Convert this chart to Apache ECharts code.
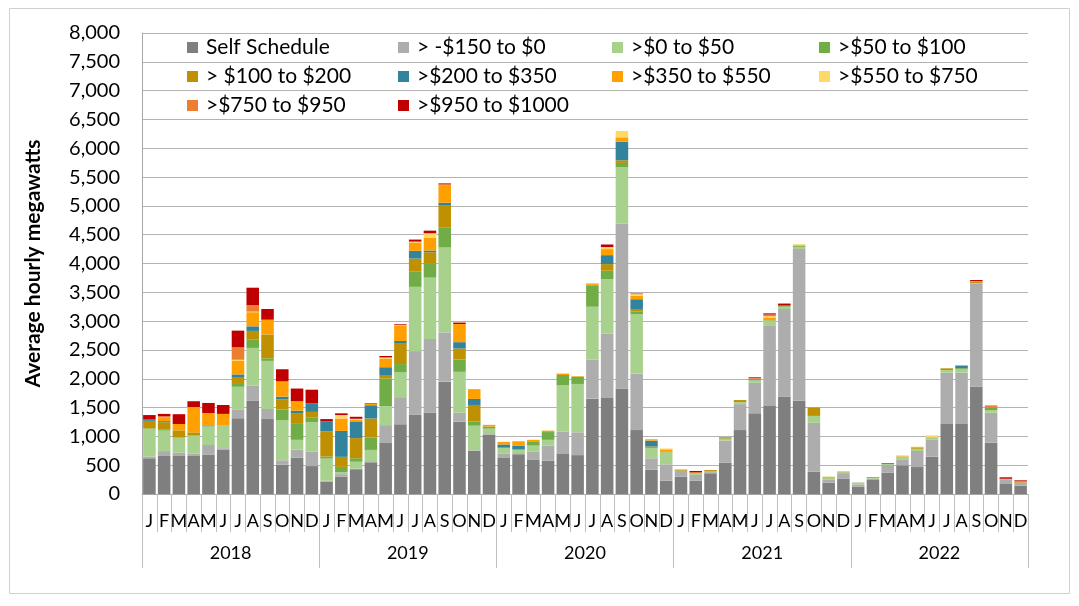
<!DOCTYPE html>
<html>
<head>
<meta charset="utf-8">
<script src="https://cdn.jsdelivr.net/npm/echarts@6/dist/echarts.min.js"></script>
<style>
html,body{margin:0;padding:0;background:#fff;}
#chart{width:1079px;height:606px;}
</style>
</head>
<body>
<div id="chart"></div>
<script>
const monthLetters = ['J','F','M','A','M','J','J','A','S','O','N','D'];
const years = ['2018','2019','2020','2021','2022'];
const yTicks = {min: 0, max: 8000, interval: 500};

const seriesNames = ['Self Schedule', '> -$150 to $0', '>$0 to $50', '>$50 to $100',
  '> $100 to $200', '>$200 to $350', '>$350 to $550', '>$550 to $750',
  '>$750 to $950', '>$950 to $1000'];
const seriesColors = ['#7f7f7f', '#adadad', '#a9d18e', '#70ad47', '#bf9000',
  '#31849b', '#ffa000', '#ffd966', '#ed7d31', '#c00000'];

const selfSchedule = [
  620, 660, 670, 660, 685, 765, 1315, 1615, 1300, 510, 630, 485,
  215, 300, 430, 550, 895, 1210, 1380, 1415, 1950, 1255, 750, 1025,
  635, 690, 600, 580, 705, 675, 1655, 1665, 1830, 1110, 420, 230,
  300, 230, 360, 545, 1110, 1400, 1525, 1690, 1620, 385, 195, 262,
  127, 243, 370, 497, 468, 648, 1215, 1215, 1862, 890, 174, 144];
const neg150to0 = [
  30, 85, 45, 45, 165, 30, 145, 265, 175, 75, 140, 250,
  15, 45, 10, 20, 300, 470, 1100, 1275, 855, 155, 10, 15,
  70, 20, 140, 260, 380, 395, 680, 1120, 2860, 980, 200, 285,
  105, 100, 20, 380, 450, 530, 1405, 1520, 2630, 850, 50, 100,
  40, 23, 133, 105, 278, 300, 890, 890, 1782, 520, 81, 53];
const p0to50 = [
  480, 355, 260, 305, 325, 390, 400, 655, 835, 695, 170, 515,
  385, 35, 120, 195, 330, 430, 1115, 1065, 1475, 710, 425, 95,
  90, 55, 100, 100, 805, 840, 915, 945, 985, 1030, 180, 210,
  0, 15, 10, 30, 35, 45, 75, 40, 40, 120, 35, 17,
  20, 15, 20, 35, 30, 25, 47, 58, 17, 47, 0, 0];
const p50to100 = [
  10, 15, 10, 10, 0, 0, 50, 150, 45, 185, 290, 75,
  35, 90, 60, 215, 480, 145, 270, 250, 340, 215, 70, 35,
  10, 10, 75, 135, 175, 125, 365, 145, 70, 45, 0, 0,
  0, 10, 0, 10, 0, 0, 10, 20, 15, 0, 10, 0,
  10, 14, 0, 0, 10, 10, 0, 20, 0, 46, 0, 0];
const p100to200 = [
  130, 130, 120, 50, 0, 0, 120, 145, 405, 180, 165, 100,
  435, 175, 350, 330, 60, 365, 220, 190, 395, 190, 290, 0,
  0, 0, 0, 0, 0, 0, 15, 115, 45, 45, 25, 15,
  20, 0, 25, 20, 35, 0, 0, 0, 10, 145, 0, 10,
  0, 0, 0, 15, 25, 0, 29, 0, 17, 0, 0, 10];
const p200to350 = [
  30, 20, 0, 0, 15, 0, 45, 80, 5, 45, 50, 150,
  175, 450, 290, 230, 135, 35, 135, 30, 40, 110, 105, 0,
  55, 60, 0, 0, 0, 0, 0, 155, 325, 170, 100, 0,
  0, 0, 0, 0, 0, 15, 0, 0, 0, 0, 0, 0,
  0, 0, 15, 0, 0, 0, 0, 38, 0, 0, 0, 0];
const p350to550 = [
  0, 70, 110, 440, 215, 205, 235, 245, 260, 265, 165, 0,
  0, 215, 30, 25, 150, 260, 145, 225, 305, 315, 170, 30,
  45, 80, 25, 25, 25, 10, 25, 105, 75, 60, 25, 35,
  0, 20, 0, 0, 0, 10, 50, 0, 0, 0, 10, 0,
  0, 0, 0, 0, 0, 0, 0, 10, 0, 0, 0, 13];
const p550to750 = [
  0, 10, 0, 0, 0, 0, 20, 10, 0, 0, 0, 0,
  0, 60, 15, 0, 20, 15, 15, 75, 0, 0, 0, 0,
  0, 0, 0, 0, 5, 0, 0, 35, 110, 25, 0, 15,
  10, 0, 0, 0, 0, 0, 20, 0, 20, 0, 0, 0,
  0, 0, 0, 20, 10, 35, 0, 0, 12, 0, 0, 0];
const p750to950 = [
  0, 0, 0, 0, 0, 0, 215, 115, 0, 0, 0, 0,
  0, 0, 0, 0, 0, 0, 0, 0, 15, 0, 0, 0,
  0, 0, 0, 0, 0, 0, 0, 0, 0, 20, 0, 0,
  0, 0, 0, 0, 0, 10, 30, 0, 0, 0, 0, 0,
  0, 0, 0, 0, 0, 0, 0, 7, 0, 35, 10, 0];
const p950to1000 = [
  70, 45, 170, 100, 175, 155, 290, 300, 185, 210, 220, 235,
  40, 30, 35, 10, 25, 15, 35, 45, 15, 25, 0, 0,
  0, 0, 0, 0, 0, 0, 0, 45, 0, 0, 0, 0,
  0, 25, 0, 0, 0, 15, 20, 35, 0, 0, 0, 0,
  0, 0, 0, 0, 0, 0, 0, 0, 23, 0, 25, 17];

const seriesValues = [selfSchedule, neg150to0, p0to50, p50to100, p100to200,
  p200to350, p350to550, p550to750, p750to950, p950to1000];

const monthCategories = [];
years.forEach(() => monthLetters.forEach(m => monthCategories.push(m)));

const FONT = 'Lato';
const legendCols = [187, 398, 612, 819];
const legendTops = [37, 66, 95];

const chart = echarts.init(document.getElementById('chart'), null, {renderer: 'canvas'});
chart.setOption({
  animation: false,
  color: seriesColors,
  grid: {left: 142, right: 51, top: 33, bottom: 112, containLabel: false},
  legend: seriesNames.map((name, i) => ({
    data: [name],
    left: legendCols[i % 4],
    top: legendTops[Math.floor(i / 4)],
    padding: 0,
    orient: 'horizontal',
    icon: 'rect',
    itemWidth: 11,
    itemHeight: 11,
    selectedMode: false,
    textStyle: {fontFamily: FONT, fontSize: 21, color: '#000', padding: [0, 0, 0, 3]}
  })),
  xAxis: [
    {
      type: 'category',
      data: monthCategories,
      position: 'bottom',
      offset: 0,
      axisLine: {show: true, lineStyle: {color: '#a6a6a6', width: 1}},
      axisTick: {show: true, length: 38, interval: 0, lineStyle: {color: '#bfbfbf'}},
      axisLabel: {interval: 0, margin: 18, fontFamily: FONT, fontSize: 18, color: '#000'},
      splitLine: {show: false}
    },
    {
      type: 'category',
      data: years,
      position: 'bottom',
      offset: 0,
      axisLine: {show: false},
      axisTick: {show: true, length: 74, interval: 0, lineStyle: {color: '#bfbfbf'}},
      axisLabel: {interval: 0, margin: 50, fontFamily: FONT, fontSize: 18, color: '#000'},
      splitLine: {show: false}
    }
  ],
  yAxis: {
    type: 'value',
    min: yTicks.min,
    max: yTicks.max,
    interval: yTicks.interval,
    name: 'Average hourly megawatts',
    nameLocation: 'middle',
    nameRotate: 90,
    nameGap: 98,
    nameTextStyle: {fontFamily: FONT, fontSize: 21, fontWeight: 'bold', color: '#000'},
    axisLine: {show: true, lineStyle: {color: '#a6a6a6'}},
    axisTick: {show: false},
    axisLabel: {
      margin: 22, fontFamily: FONT, fontSize: 20, color: '#000',
      formatter: v => v.toLocaleString('en-US')
    },
    splitLine: {show: true, lineStyle: {color: '#b3b3b3', width: 1}}
  },
  series: seriesNames.map((name, i) => ({
    name: name,
    type: 'bar',
    stack: 'total',
    xAxisIndex: 0,
    barWidth: '85%',
    itemStyle: {color: seriesColors[i]},
    data: seriesValues[i]
  })),
  graphic: [{
    type: 'rect',
    shape: {x: 9.5, y: 8.5, width: 1060, height: 585},
    style: {fill: null, stroke: '#d0d0d0', lineWidth: 1},
    silent: true,
    z: -10
  }]
});
</script>
</body>
</html>
